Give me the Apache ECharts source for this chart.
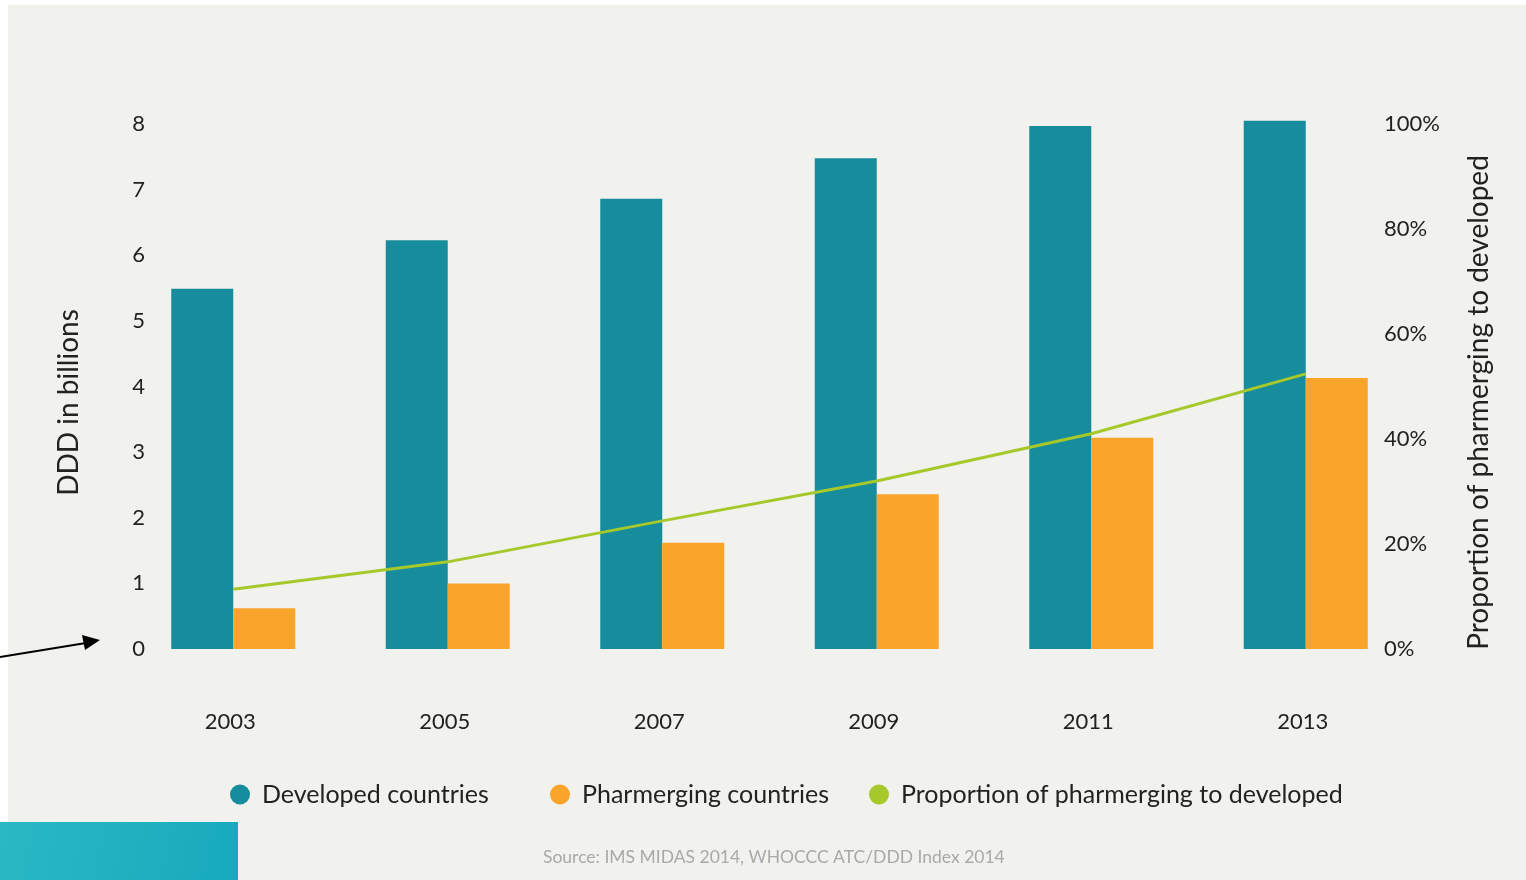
<!DOCTYPE html>
<html>
<head>
<meta charset="utf-8">
<script src="https://cdn.jsdelivr.net/npm/echarts@6/dist/echarts.min.js"></script>
<style>
  html, body { margin: 0; padding: 0; background: #ffffff; }
  #paper { position: absolute; left: 8px; top: 5px; width: 1518px; height: 875px; background: #f1f1ee; }
  #main { position: absolute; left: 0; top: 0; width: 1526px; height: 880px; }
</style>
</head>
<body>
<div id="paper"></div>
<div id="main"></div>
<script>
/* data */
var years = ['2003', '2005', '2007', '2009', '2011', '2013'];
var developed = [5.49, 6.23, 6.86, 7.48, 7.97, 8.05];
var pharmerging = [0.62, 1.0, 1.62, 2.36, 3.22, 4.13];
var proportion = [11.4, 16.6, 24.4, 32.0, 41.0, 52.4];
var leftTicks = [0, 1, 2, 3, 4, 5, 6, 7, 8];
var rightTicks = [0, 20, 40, 60, 80, 100];
var seriesNames = ['Developed countries', 'Pharmerging countries', 'Proportion of pharmerging to developed'];

var font = 'Lato';
var txt = '#222222';

var chart = echarts.init(document.getElementById('main'));

/* the legend items are not evenly spaced in the picture, so one legend per item */
var legendLeft = [225, 545, 864];
var legends = seriesNames.map(function (n, i) {
    return {
        left: legendLeft[i],
        top: 777,
        icon: 'circle',
        itemWidth: 20,
        itemHeight: 20,
        textStyle: { fontFamily: font, fontSize: 25, color: txt, padding: [0, 0, 0, 7] },
        data: [n]
    };
});

var option = {
    backgroundColor: 'transparent',
    textStyle: { fontFamily: font },
    animation: false,
    grid: { left: 126, right: 113, top: 124, bottom: 231 },
    legend: legends,
    xAxis: {
        type: 'category',
        data: years,
        axisLine: { show: false },
        axisTick: { show: false },
        axisLabel: { margin: 62, fontSize: 22, color: txt, fontFamily: font, padding: [0, 6, 0, 0] }
    },
    yAxis: [
        {
            type: 'value',
            min: 0,
            max: 8,
            interval: 1,
            name: 'DDD in billions',
            nameLocation: 'middle',
            nameRotate: 90,
            nameGap: 43,
            nameTextStyle: { fontSize: 28, color: txt, fontFamily: font, padding: [0, 32, 0, 0] },
            splitLine: { show: false },
            axisLine: { show: false },
            axisTick: { show: false },
            axisLabel: {
                margin: -19, fontSize: 22, color: txt, fontFamily: font,
                formatter: function (v) { return leftTicks.indexOf(v) >= 0 ? String(v) : ''; }
            }
        },
        {
            type: 'value',
            min: 0,
            max: 100,
            interval: 20,
            position: 'right',
            name: 'Proportion of pharmerging to developed',
            nameLocation: 'middle',
            nameRotate: 90,
            nameGap: 52,
            nameTextStyle: { fontSize: 28, color: txt, fontFamily: font, padding: [0, 32, 0, 0] },
            splitLine: { show: false },
            axisLine: { show: false },
            axisTick: { show: false },
            axisLabel: {
                margin: -29, fontSize: 22, color: txt, fontFamily: font,
                formatter: function (v) { return rightTicks.indexOf(v) >= 0 ? v + '%' : ''; }
            }
        }
    ],
    series: [
        {
            name: seriesNames[0],
            type: 'bar',
            data: developed,
            barWidth: 62,
            barGap: '0%',
            clip: false,
            itemStyle: { color: '#178c9c' }
        },
        {
            name: seriesNames[1],
            type: 'bar',
            data: pharmerging,
            barWidth: 62,
            barGap: '0%',
            clip: false,
            itemStyle: { color: '#fba42c' }
        },
        {
            name: seriesNames[2],
            type: 'line',
            yAxisIndex: 1,
            data: proportion,
            showSymbol: false,
            symbol: 'circle',
            z: 5,
            itemStyle: { color: '#a6c82a' },
            lineStyle: { color: '#a6c82a', width: 3 }
        }
    ],
    graphic: [
        {
            type: 'text',
            left: 543,
            top: 848,
            style: {
                text: 'Source: IMS MIDAS 2014, WHOCCC ATC/DDD Index 2014',
                fontSize: 17.5,
                fontFamily: font,
                fill: '#a9a9ab'
            }
        },
        // arrow pointing at the zero tick
        {
            type: 'line',
            shape: { x1: 0, y1: 657, x2: 86, y2: 643 },
            style: { stroke: '#000', lineWidth: 2 }
        },
        {
            type: 'polygon',
            shape: { points: [[100, 640], [82, 635], [85, 650]] },
            style: { fill: '#000' }
        },
        // teal block in the lower left corner
        {
            type: 'rect',
            shape: { x: 0, y: 822, width: 238, height: 58 },
            z: 10,
            style: {
                fill: new echarts.graphic.LinearGradient(0, 0, 1, 1, [
                    { offset: 0, color: '#2ab8c4' },
                    { offset: 1, color: '#17aabd' }
                ])
            }
        }
    ]
};

chart.setOption(option);
</script>
</body>
</html>
